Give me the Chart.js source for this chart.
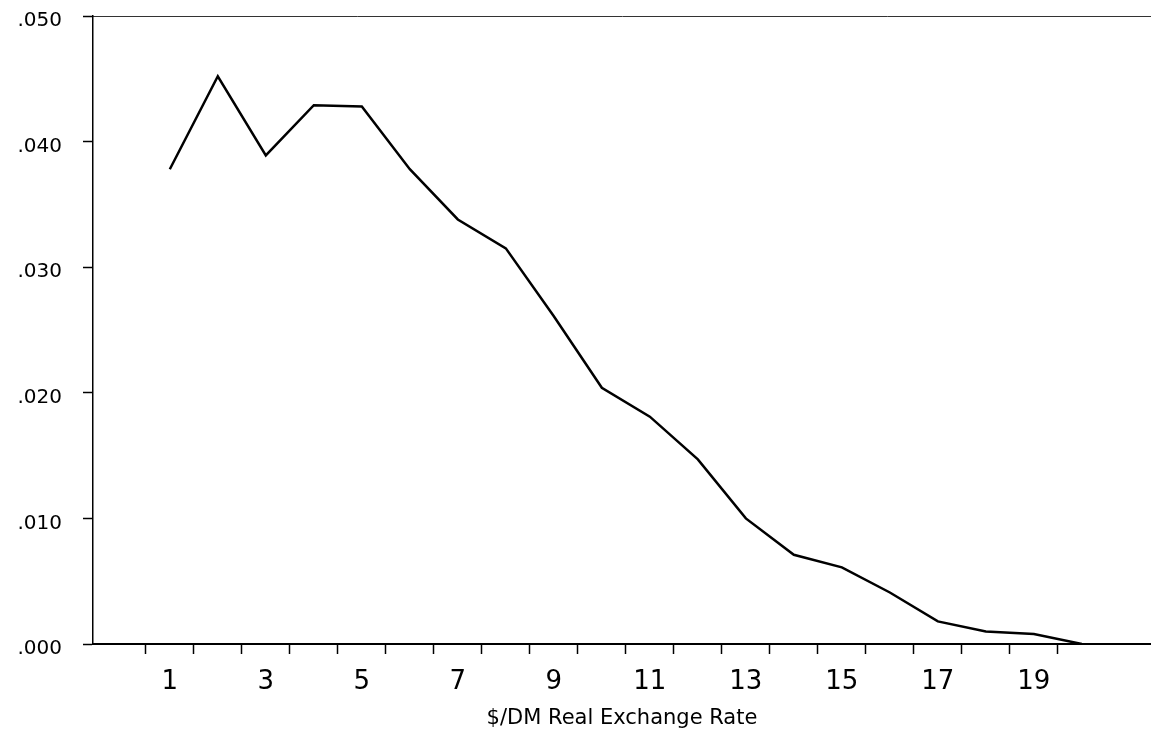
<!DOCTYPE html>
<html>
<head>
<meta charset="utf-8">
<title>$/DM Real Exchange Rate</title>
<script src="https://cdn.jsdelivr.net/npm/chart.js@4.4.1/dist/chart.umd.min.js"></script>
<style>
    html, body { margin: 0; padding: 0; background: #fff; overflow: hidden; }
</style>
</head>
<body>
<canvas id="chart" width="1151" height="732"></canvas>
<script>
// rate classes on the x axis and the density
const rates = [1, 2, 3, 4, 5, 6, 7, 8, 9, 10, 11, 12, 13, 14, 15, 16, 17, 18, 19, 20];
const density = [0.0378, 0.0452, 0.0389, 0.0429, 0.0428, 0.0378, 0.0338, 0.0315, 0.0261, 0.0204,
                 0.0181, 0.0147, 0.0100, 0.0071, 0.0061, 0.0041, 0.0018, 0.0010, 0.0008, 0.0000];
const xLabels = ['1', '3', '5', '7', '9', '11', '13', '15', '17', '19'];
const yTicks = [0, 0.01, 0.02, 0.03, 0.04, 0.05];
const xTitle = '$/DM Real Exchange Rate';

const FONT = "'DejaVu Sans', sans-serif";
const X_MIN = -0.6, X_MAX = 21.44;

let points = rates.map((r, i) => ({ x: r, y: density[i] }));

const config = {
    type: 'line',
    data: {
        datasets: [{
            data: points,
            borderColor: '#000',
            borderWidth: 2.5,
            pointRadius: 0,
            tension: 0,
            fill: false
        }]
    },
    options: {
        responsive: false,
        animation: false,
        layout: { padding: { top: 16, left: 0, right: 0, bottom: 0 } },
        plugins: {
            legend: { display: false },
            tooltip: { enabled: false }
        },
        scales: {
            x: {
                type: 'linear',
                position: 'bottom',
                min: X_MIN,
                max: X_MAX,
                afterBuildTicks: (scale) => {
                    scale.ticks = rates.map(v => ({ value: v }));
                },
                afterFit: (scale) => {
                    scale.height = 88;
                    scale.paddingLeft = 0;
                    scale.paddingRight = 0;
                },
                ticks: {
                    autoSkip: false,
                    maxRotation: 0,
                    padding: 13,
                    color: '#000',
                    font: { family: FONT, size: 26 },
                    callback: (v) => xLabels.includes(String(v)) ? String(v) : ''
                },
                grid: {
                    offset: true,
                    drawOnChartArea: false,
                    drawTicks: true,
                    tickLength: 10,
                    tickWidth: 1.5,
                    tickColor: (ctx) => ctx.tick ? '#000' : 'rgba(0,0,0,0)'
                },
                border: { display: true, color: '#000', width: 2 },
                title: {
                    display: true,
                    text: xTitle,
                    color: '#000',
                    font: { family: FONT, size: 21 },
                    padding: { top: 0, bottom: 1 }
                }
            },
            top: {
                type: 'linear',
                position: 'top',
                min: X_MIN,
                max: X_MAX,
                afterFit: (scale) => {
                    scale.height = 0;
                    scale.paddingLeft = 0;
                    scale.paddingRight = 0;
                },
                ticks: { display: false },
                grid: { display: false },
                border: { display: true, color: '#333', width: 1 }
            },
            y: {
                type: 'linear',
                min: 0,
                max: 0.05,
                afterBuildTicks: (scale) => {
                    scale.ticks = yTicks.map(v => ({ value: v }));
                },
                afterFit: (scale) => {
                    scale.width = 93;
                    scale.paddingTop = 0;
                    scale.paddingBottom = 0;
                },
                ticks: {
                    padding: 21,
                    labelOffset: 5,
                    color: '#000',
                    font: { family: FONT, size: 20 },
                    callback: (v) => v.toFixed(3).slice(1)
                },
                grid: {
                    drawOnChartArea: false,
                    drawTicks: true,
                    tickLength: 10,
                    tickWidth: 1.5,
                    tickColor: '#000'
                },
                border: { display: true, color: '#000', width: 1.5 }
            }
        }
    }
};

new Chart(document.getElementById('chart'), config);
</script>
</body>
</html>
